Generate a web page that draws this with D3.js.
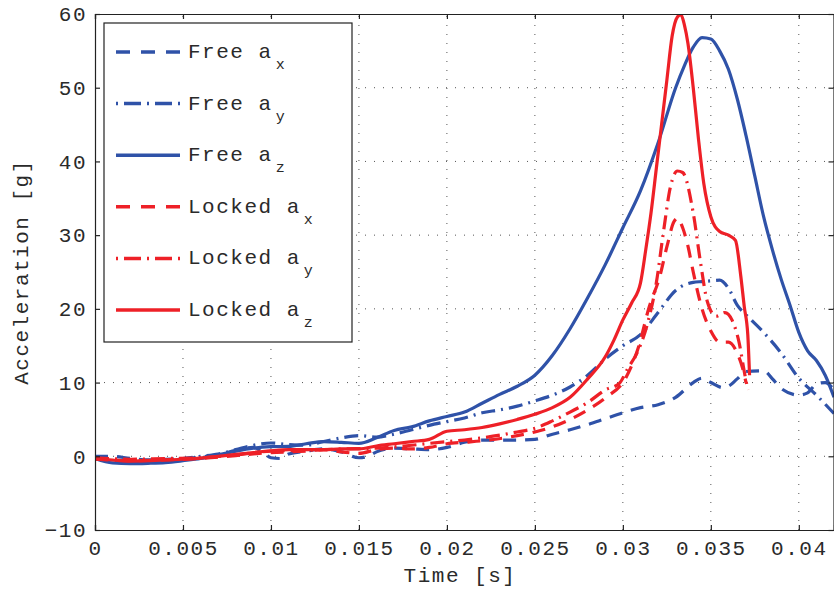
<!DOCTYPE html>
<html>
<head>
<meta charset="utf-8">
<script src="https://cdn.jsdelivr.net/npm/d3@7"></script>
<style>
  body { margin: 0; background: #fff; }
  svg text { font-family: "Liberation Mono", "DejaVu Sans Mono", monospace; fill: #2a2a2a; }
</style>
</head>
<body>
<div id="main"></div>
<script>
// values, [time s, acceleration g]
const freeAx = [[0,0],[0.001,0],[0.002,-0.3],[0.003,-0.5],[0.004,-0.4],[0.005,-0.3],[0.006,-0.1],[0.007,0.2],[0.008,0.8],[0.009,1.2],[0.0095,0.6],[0.010,-0.2],[0.0105,-0.3],[0.011,0.3],[0.012,0.7],[0.013,1.0],[0.014,0.6],[0.015,-0.2],[0.0155,0],[0.016,0.6],[0.017,1.1],[0.018,1.0],[0.019,0.9],[0.020,1.2],[0.021,1.9],[0.022,2.2],[0.023,2.2],[0.024,2.2],[0.025,2.3],[0.026,3.0],[0.027,3.6],[0.028,4.3],[0.029,5.1],[0.030,5.9],[0.031,6.6],[0.032,7.0],[0.033,8.0],[0.034,10],[0.0345,10.6],[0.035,10],[0.0357,9.3],[0.036,9.5],[0.0365,10.5],[0.037,11.5],[0.038,11.6],[0.0385,10.5],[0.039,9.2],[0.040,8.3],[0.0405,8.6],[0.041,9.8],[0.0415,10],[0.042,9]];
const freeAy = [[0,-0.3],[0.001,-0.6],[0.002,-0.7],[0.003,-0.6],[0.004,-0.5],[0.005,-0.3],[0.006,0],[0.007,0.3],[0.008,0.9],[0.009,1.5],[0.010,1.8],[0.011,1.6],[0.012,1.5],[0.013,2.0],[0.014,2.5],[0.015,2.8],[0.016,2.6],[0.017,3.0],[0.018,3.6],[0.019,4.2],[0.020,4.7],[0.021,5.2],[0.022,5.9],[0.023,6.3],[0.024,6.8],[0.025,7.5],[0.026,8.3],[0.027,9.4],[0.028,11.0],[0.029,13.2],[0.030,15.0],[0.031,16.5],[0.032,19.5],[0.033,22.5],[0.034,23.6],[0.0345,23.7],[0.035,23.8],[0.0355,23.9],[0.036,22.8],[0.0365,20.5],[0.037,19.2],[0.038,16.8],[0.039,14],[0.040,10.6],[0.041,8.3],[0.042,5.8]];
const freeAz = [[0,-0.3],[0.001,-0.9],[0.002,-1.0],[0.003,-0.95],[0.004,-0.85],[0.005,-0.6],[0.006,-0.3],[0.007,0.2],[0.008,0.7],[0.009,1.1],[0.010,1.3],[0.011,1.35],[0.012,1.7],[0.013,2.0],[0.014,1.9],[0.015,1.75],[0.016,2.5],[0.017,3.5],[0.018,4.0],[0.019,4.8],[0.020,5.4],[0.021,6.0],[0.022,7.2],[0.023,8.4],[0.024,9.5],[0.025,11.0],[0.026,13.7],[0.027,17.3],[0.028,21.5],[0.029,26],[0.030,31],[0.031,36],[0.032,42.5],[0.033,50],[0.0335,53],[0.034,55.5],[0.0345,56.8],[0.035,56.6],[0.0355,55],[0.036,52.5],[0.0365,48.5],[0.037,43.5],[0.0375,38],[0.038,32.5],[0.0385,28],[0.039,24],[0.0395,20.5],[0.040,16.8],[0.0405,14.3],[0.041,13],[0.0415,11],[0.042,8]];
const lockedAx = [[0,-0.4],[0.002,-0.6],[0.004,-0.5],[0.006,-0.3],[0.008,0.1],[0.010,0.5],[0.012,0.7],[0.013,0.9],[0.014,0.6],[0.015,0.4],[0.016,0.9],[0.017,1.1],[0.018,1.0],[0.019,1.2],[0.020,1.7],[0.021,1.9],[0.022,2.1],[0.024,2.8],[0.025,3.3],[0.026,4.0],[0.027,5.0],[0.028,6.3],[0.029,7.9],[0.0302,10.8],[0.0309,14.9],[0.0315,20.3],[0.0321,24.4],[0.0325,28.4],[0.0329,31.8],[0.0331,32.3],[0.0334,31],[0.0337,28.5],[0.034,25],[0.0345,20],[0.035,17],[0.0355,15.5],[0.036,15.5],[0.0365,14],[0.0368,12],[0.037,10]];
const lockedAy = [[0,-0.2],[0.002,-0.4],[0.004,-0.3],[0.006,-0.2],[0.008,0.2],[0.010,0.7],[0.012,0.8],[0.014,1.0],[0.016,1.1],[0.018,1.5],[0.020,2.0],[0.021,2.2],[0.022,2.5],[0.024,3.3],[0.025,3.8],[0.026,4.8],[0.027,6.0],[0.028,7.3],[0.029,9.0],[0.0298,9.9],[0.0303,12],[0.0308,14],[0.0314,18],[0.0319,23.5],[0.0323,30.3],[0.0327,36.5],[0.0331,38.7],[0.0334,38.5],[0.034,33],[0.0344,26.5],[0.0348,21],[0.0353,19],[0.0358,19.5],[0.0362,18.5],[0.0366,15.5],[0.0369,11.5],[0.0371,9]];
const lockedAz = [[0,-0.3],[0.001,-0.5],[0.002,-0.65],[0.003,-0.6],[0.004,-0.5],[0.005,-0.4],[0.006,-0.25],[0.007,0],[0.008,0.25],[0.009,0.5],[0.010,0.75],[0.011,0.9],[0.012,0.9],[0.013,0.9],[0.014,1.0],[0.015,1.0],[0.016,1.4],[0.017,1.7],[0.018,2.0],[0.019,2.3],[0.020,3.4],[0.021,3.6],[0.022,3.9],[0.023,4.4],[0.024,5.0],[0.025,5.7],[0.026,6.6],[0.027,8.0],[0.028,10.5],[0.029,13.5],[0.0295,15.8],[0.030,18.5],[0.0305,20.8],[0.031,23.5],[0.0313,28],[0.0316,33],[0.0319,39],[0.0322,45],[0.0325,51],[0.0328,57],[0.0331,59.6],[0.0333,59.9],[0.0335,58.5],[0.0337,56],[0.034,50],[0.0343,43],[0.0346,37],[0.035,32.5],[0.0355,30.5],[0.036,30],[0.0364,29.3],[0.0367,24.5],[0.0369,20.3],[0.0371,16.5],[0.0372,11]];

const xTicks = [0, 0.005, 0.01, 0.015, 0.02, 0.025, 0.03, 0.035, 0.04];
const yTicks = [-10, 0, 10, 20, 30, 40, 50, 60];

const blue = "#2f52a8";
const red = "#ee2027";
const dashed = "13,9";
const dashDot = "14,6,2,6";

const series = [
  { name: "Free a", sub: "x", data: freeAx, color: blue, dash: dashed },
  { name: "Free a", sub: "y", data: freeAy, color: blue, dash: dashDot },
  { name: "Free a", sub: "z", data: freeAz, color: blue, dash: null },
  { name: "Locked a", sub: "x", data: lockedAx, color: red, dash: dashed },
  { name: "Locked a", sub: "y", data: lockedAy, color: red, dash: dashDot },
  { name: "Locked a", sub: "z", data: lockedAz, color: red, dash: null }
];

const box = { left: 95, top: 14, right: 834, bottom: 530 };

const svg = d3.select("#main")
  .append("svg")
  .attr("width", 834)
  .attr("height", 589);

const x = d3.scaleLinear().domain([0, 0.042]).range([box.left, box.right]);
const y = d3.scaleLinear().domain([-10, 60]).range([box.bottom, box.top]);

// dotted grid
const grid = svg.append("g").attr("stroke", "#555").attr("stroke-width", 1).attr("stroke-dasharray", "1,8");
grid.selectAll("line.vx")
  .data(xTicks.slice(1))
  .enter()
  .append("line")
  .attr("x1", d => x(d)).attr("x2", d => x(d))
  .attr("y1", box.bottom).attr("y2", box.top);
grid.selectAll("line.hy")
  .data(yTicks.slice(1, -1))
  .enter()
  .append("line")
  .attr("x1", box.left).attr("x2", box.right)
  .attr("y1", d => y(d)).attr("y2", d => y(d));

svg.append("clipPath").attr("id", "plotclip")
  .append("rect")
  .attr("x", box.left).attr("y", box.top)
  .attr("width", box.right - box.left).attr("height", box.bottom - box.top);

const line = d3.line()
  .x(d => x(d[0]))
  .y(d => y(d[1]))
  .curve(d3.curveMonotoneX);

svg.append("g")
  .attr("clip-path", "url(#plotclip)")
  .selectAll("path")
  .data(series)
  .enter()
  .append("path")
  .attr("d", d => line(d.data))
  .attr("fill", "none")
  .attr("stroke", d => d.color)
  .attr("stroke-width", 3.2)
  .attr("stroke-dasharray", d => d.dash)
  .attr("stroke-linejoin", "round");

// axes, MATLAB-like box with ticks inside on every side
const tickLen = 5;
const xBottom = d3.axisBottom(x).tickValues(xTicks).tickSize(-tickLen).tickPadding(10).tickFormat(d => d3.format("~g")(d));
const xTop = d3.axisTop(x).tickValues(xTicks).tickSize(-tickLen).tickFormat("");
const yLeft = d3.axisLeft(y).tickValues(yTicks).tickSize(-tickLen).tickPadding(8).tickFormat(d => d < 0 ? "\u2212" + Math.abs(d) : d);
const yRight = d3.axisRight(y).tickValues(yTicks).tickSize(-tickLen).tickFormat("");

function styleAxis(g) {
  g.select(".domain").attr("stroke", "#222").attr("stroke-width", 1.2);
  g.selectAll(".tick line").attr("stroke", "#222").attr("stroke-width", 1.2);
  g.selectAll(".tick text").style("font-family", "Liberation Mono, monospace")
    .style("font-size", "21px").style("letter-spacing", "1.5px").attr("fill", "#2a2a2a");
}

svg.append("g").attr("transform", `translate(0,${box.bottom})`).call(xBottom).call(styleAxis);
svg.append("g").attr("transform", `translate(0,${box.top})`).call(xTop).call(styleAxis);
svg.append("g").attr("transform", `translate(${box.left},0)`).call(yLeft).call(styleAxis);
svg.append("g").attr("transform", `translate(${box.right - 0.5},0)`).call(yRight).call(styleAxis);

svg.append("text")
  .attr("x", 460)
  .attr("y", 582)
  .attr("text-anchor", "middle")
  .style("font-size", "21px")
  .style("letter-spacing", "1.5px")
  .text("Time [s]");

svg.append("text")
  .attr("transform", "translate(28,272) rotate(-90)")
  .attr("text-anchor", "middle")
  .style("font-size", "21px")
  .style("letter-spacing", "1.5px")
  .text("Acceleration [g]");

// legend
const legend = svg.append("g").attr("id", "legend");
legend.append("rect")
  .attr("x", 104).attr("y", 23)
  .attr("width", 248).attr("height", 319)
  .attr("fill", "#fff")
  .attr("stroke", "#222")
  .attr("stroke-width", 1.2);

const item = legend.selectAll("g.item")
  .data(series)
  .enter()
  .append("g")
  .attr("transform", (d, i) => `translate(0,${52 + i * 51.6})`);

item.append("line")
  .attr("x1", 116).attr("x2", 180)
  .attr("y1", 0).attr("y2", 0)
  .attr("stroke", d => d.color)
  .attr("stroke-width", 3.5)
  .attr("stroke-dasharray", d => d.dash === dashed ? "14,11" : d.dash === dashDot ? "2,6,17,6" : null);

const label = item.append("text")
  .attr("x", 188)
  .attr("y", 6)
  .style("font-size", "21px")
  .style("letter-spacing", "1.5px");
label.append("tspan").text(d => d.name);
label.append("tspan")
  .attr("dx", 3)
  .attr("dy", 11)
  .style("font-size", "15px")
  .text(d => d.sub);
</script>
</body>
</html>
